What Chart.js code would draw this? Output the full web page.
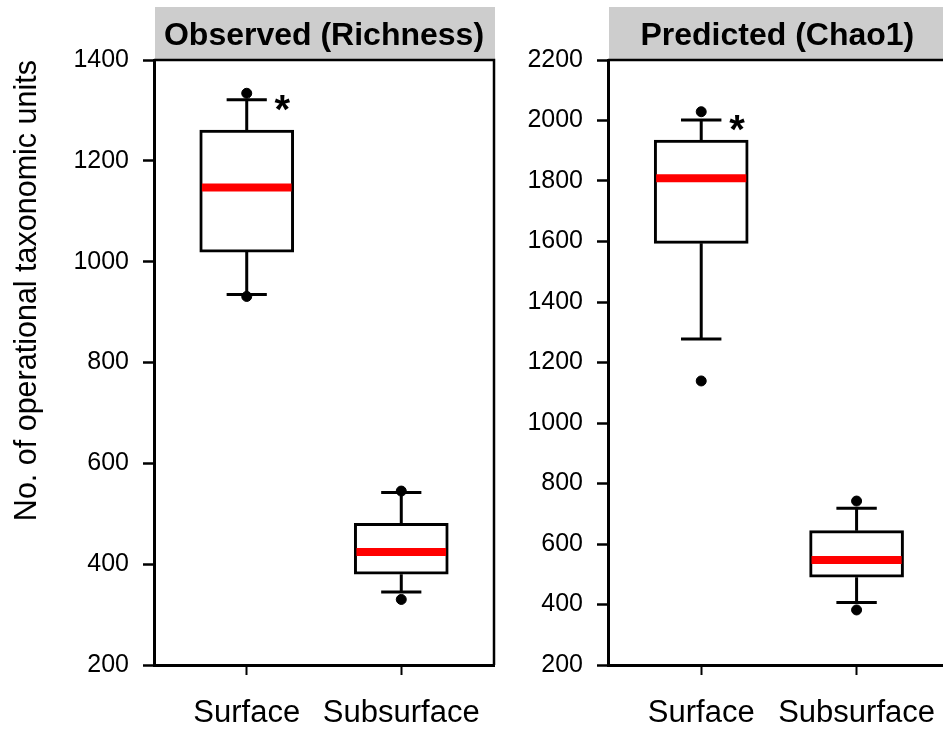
<!DOCTYPE html>
<html>
<head>
<meta charset="utf-8">
<script src="https://cdn.jsdelivr.net/npm/chart.js@4.4.1/dist/chart.umd.min.js"></script>
<style>
  html, body { margin: 0; padding: 0; background: #fff; overflow: hidden; }
  #wrap { position: relative; width: 1000px; height: 736px; }
  canvas { position: absolute; top: 0; }
  #obsChart { left: 0; width: 520px; height: 736px; }
  #chaoChart { left: 520px; width: 438px; height: 736px; }
</style>
</head>
<body>
<div id="wrap">
  <canvas id="obsChart" width="520" height="736"></canvas>
  <canvas id="chaoChart" width="438" height="736"></canvas>
</div>
<script>
const categories = ['Surface', 'Subsurface'];

// Observed (Richness)
const obsQ1 = [1019, 380];
const obsQ3 = [1261, 481];
const obsMedian = [1147, 424];
const obsWhiskerLow = [935, 345];
const obsWhiskerHigh = [1321, 542];
const obsOutlierLow = [931, 330];
const obsOutlierHigh = [1334, 545];
const obsTicks = [200, 400, 600, 800, 1000, 1200, 1400];

// Predicted (Chao1)
const chaoQ1 = [1594, 490];
const chaoQ3 = [1935, 644];
const chaoMedian = [1809, 547];
const chaoWhiskerLow = [1278, 407];
const chaoWhiskerHigh = [2002, 718];
const chaoOutlierLow = [1139, 382];
const chaoOutlierHigh = [2029, 742];
const chaoTicks = [200, 400, 600, 800, 1000, 1200, 1400, 1600, 1800, 2000, 2200];

const signif = ['*', ''];

const FONT = 'Arial, "Liberation Sans", sans-serif';
Chart.defaults.font.family = FONT;
Chart.defaults.color = '#000';

// gray header strip + top/right frame + significance marks
const panelDeco = {
  id: 'panelDeco',
  beforeDraw(chart) {
    const { ctx, chartArea: a } = chart;
    ctx.save();
    ctx.fillStyle = '#cdcdcd';
    ctx.fillRect(a.left + 1, 7, a.right - a.left, a.top - 7);
    ctx.restore();
  },
  afterDraw(chart) {
    const { ctx, chartArea: a, scales } = chart;
    ctx.save();
    ctx.strokeStyle = '#000';
    ctx.lineWidth = 2.5;
    ctx.beginPath();
    ctx.moveTo(a.left, a.top);
    ctx.lineTo(a.right, a.top);
    ctx.lineTo(a.right, a.bottom);
    ctx.stroke();
    const hi = chart.options.plugins.panelDeco.whiskerHigh;
    ctx.font = 'bold 40px ' + FONT;
    ctx.fillStyle = '#000';
    ctx.textAlign = 'center';
    ctx.textBaseline = 'alphabetic';
    signif.forEach((s, i) => {
      if (!s) return;
      const x = scales.x.getPixelForValue(i + 1.23);
      const y = scales.y.getPixelForValue(hi[i]) + 23;
      ctx.fillText(s, x, y);
    });
    ctx.restore();
  }
};

function boxDatasets(q1, q3, med, wLo, wHi, outLo, outHi) {
  const whiskers = [], caps = [], medians = [], outliers = [];
  categories.forEach((c, i) => {
    const x = i + 1;
    whiskers.push({ x, y: q3[i] }, { x, y: wHi[i] }, { x, y: null },
                  { x, y: q1[i] }, { x, y: wLo[i] }, { x, y: null });
    caps.push({ x: x - 0.13, y: wHi[i] }, { x: x + 0.13, y: wHi[i] }, { x, y: null },
              { x: x - 0.13, y: wLo[i] }, { x: x + 0.13, y: wLo[i] }, { x, y: null });
    medians.push({ x: x - 0.29, y: med[i] }, { x: x + 0.29, y: med[i] }, { x, y: null });
    outliers.push({ x, y: outLo[i] }, { x, y: outHi[i] });
  });
  return [
    {
      type: 'bar',
      data: categories.map((c, i) => ({ x: i + 1, y: [q1[i], q3[i]] })),
      backgroundColor: '#fff',
      borderColor: '#000',
      borderWidth: 3,
      borderSkipped: false,
      barThickness: 94,
      order: 4
    },
    { type: 'line', data: whiskers, borderColor: '#000', borderWidth: 3, pointRadius: 0, order: 3 },
    { type: 'line', data: caps, borderColor: '#000', borderWidth: 3, pointRadius: 0, order: 2 },
    { type: 'line', data: medians, borderColor: '#ff0000', borderWidth: 8, pointRadius: 0, order: 1 },
    { type: 'scatter', data: outliers, backgroundColor: '#000', borderColor: '#000', pointRadius: 5, order: 0 }
  ];
}

function makePanel(canvasId, header, datasets, ticks, whiskerHigh, yWidth, yTitle, padRight, xMax) {
  const yMin = ticks[0], yMax = ticks[ticks.length - 1];
  return new Chart(document.getElementById(canvasId), {
    type: 'bar',
    data: { datasets },
    plugins: [panelDeco],
    options: {
      responsive: false,
      animation: false,
      layout: { padding: { left: 0, right: padRight, top: 0, bottom: 0 } },
      plugins: {
        legend: { display: false },
        tooltip: { enabled: false },
        title: {
          display: true,
          text: header,
          fullSize: false,
          color: '#000',
          font: { size: 32, weight: 'bold' },
          padding: { top: 17, bottom: 4.6 }
        },
        panelDeco: { whiskerHigh }
      },
      scales: {
        x: {
          type: 'linear',
          min: 0.4,
          max: xMax,
          offset: false,
          afterBuildTicks: (s) => { s.ticks = categories.map((c, i) => ({ value: i + 1 })); },
          afterFit: (s) => { s.height = 71; },
          ticks: {
            callback: (v) => categories[v - 1] || '',
            font: { size: 31 },
            color: '#000',
            padding: 20,
            maxRotation: 0,
            autoSkip: false
          },
          grid: { display: true, offset: false, drawOnChartArea: false, drawTicks: true, tickLength: 10, tickWidth: 2, tickColor: '#000' },
          border: { display: true, color: '#000', width: 3 }
        },
        y: {
          type: 'linear',
          min: yMin,
          max: yMax,
          afterBuildTicks: (s) => { s.ticks = ticks.map(v => ({ value: v })); },
          afterFit: (s) => { s.width = yWidth; },
          ticks: { font: { size: 25 }, color: '#000', padding: 14, callback: (v) => String(v) },
          grid: { display: true, drawOnChartArea: false, drawTicks: true, tickLength: 11, tickWidth: 2.5, tickColor: '#000' },
          border: { display: true, color: '#000', width: 3 },
          title: {
            display: !!yTitle,
            text: yTitle,
            align: 'end',
            color: '#000',
            font: { size: 30.5 },
            padding: { top: 9, bottom: 0 }
          }
        }
      }
    }
  });
}

makePanel('obsChart', 'Observed (Richness)',
  boxDatasets(obsQ1, obsQ3, obsMedian, obsWhiskerLow, obsWhiskerHigh, obsOutlierLow, obsOutlierHigh),
  obsTicks, obsWhiskerHigh, 154, 'No. of operational taxonomic units', 26, 2.6);

// right canvas runs past the window edge so its frame ends just off-screen, as in the original
makePanel('chaoChart', 'Predicted (Chao1)',
  boxDatasets(chaoQ1, chaoQ3, chaoMedian, chaoWhiskerLow, chaoWhiskerHigh, chaoOutlierLow, chaoOutlierHigh),
  chaoTicks, chaoWhiskerHigh, 88, '', 0, 2.58);
</script>
</body>
</html>
